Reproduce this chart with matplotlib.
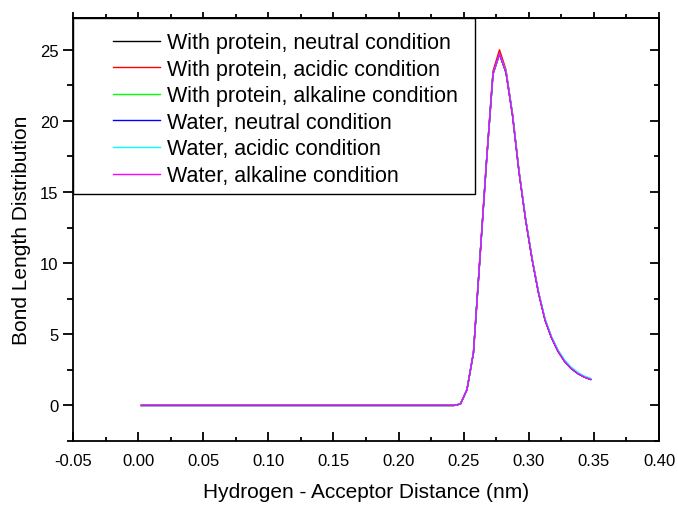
import matplotlib
matplotlib.use("Agg")
import matplotlib.pyplot as plt
from matplotlib.ticker import MultipleLocator, NullFormatter, FormatStrFormatter
from matplotlib.patches import Rectangle

plt.rcParams['font.family'] = ['Liberation Sans', 'DejaVu Sans']

# ---- data ----
distance = [0.0025, 0.2425, 0.2475, 0.2525, 0.2575, 0.2625, 0.2675, 0.2725,
            0.2775, 0.2825, 0.2875, 0.2925, 0.2975, 0.3025, 0.3075, 0.3125,
            0.3175, 0.3225, 0.3275, 0.3325, 0.3375, 0.3425, 0.3475]

prot_neutral = [0, 0, 0.1, 1.1, 3.7, 10.4, 17.1, 23.3, 24.7, 23.4, 20.4, 16.4,
                13.1, 10.3, 7.9, 6.0, 4.75, 3.8, 3.1, 2.6, 2.25, 2.0, 1.83]
prot_acidic = [0, 0, 0.1, 1.1, 3.7, 10.4, 17.2, 23.5, 25.0, 23.6, 20.5, 16.5,
               13.1, 10.3, 7.9, 6.0, 4.75, 3.8, 3.1, 2.6, 2.25, 2.0, 1.83]
prot_alkaline = [0, 0, 0.1, 1.1, 3.7, 10.4, 17.1, 23.3, 24.7, 23.4, 20.4, 16.4,
                 13.1, 10.3, 7.9, 6.0, 4.75, 3.8, 3.1, 2.6, 2.25, 2.0, 1.83]
water_neutral = [0, 0, 0.1, 1.1, 3.7, 10.4, 17.1, 23.3, 24.7, 23.4, 20.4, 16.4,
                 13.1, 10.3, 7.9, 6.0, 4.75, 3.8, 3.1, 2.6, 2.25, 2.0, 1.83]
water_acidic = [0, 0, 0.1, 1.1, 3.7, 10.4, 17.1, 23.3, 24.7, 23.5, 20.5, 16.5,
                13.2, 10.4, 8.0, 6.1, 4.85, 3.9, 3.2, 2.7, 2.33, 2.07, 1.9]
water_alkaline = [0, 0, 0.1, 1.1, 3.7, 10.4, 17.1, 23.3, 24.7, 23.4, 20.4, 16.4,
                  13.1, 10.3, 7.9, 6.0, 4.75, 3.8, 3.1, 2.6, 2.25, 2.0, 1.83]

labels = ["With protein, neutral condition",
          "With protein, acidic condition",
          "With protein, alkaline condition",
          "Water, neutral condition",
          "Water, acidic condition",
          "Water, alkaline condition"]
series = [prot_neutral, prot_acidic, prot_alkaline,
          water_neutral, water_acidic, water_alkaline]
colors = ["#000000", "#FF0000", "#00FF00", "#0000FF", "#00FFFF", "#FF00FF"]

# ---- figure ----
fig = plt.figure(figsize=(6.78, 5.06), dpi=100)
ax = fig.add_axes([0.1077, 0.1265, 0.8643, 0.835])

handles = []
for ys, c, lab in zip(series, colors, labels):
    h, = ax.plot(distance, ys, color=c, lw=1.0, label=lab)
    handles.append(h)

ax.set_xlim(-0.05, 0.40)
ax.set_ylim(-2.5, 27.2)

ax.xaxis.set_major_locator(MultipleLocator(0.05))
ax.xaxis.set_minor_locator(MultipleLocator(0.025))
ax.xaxis.set_major_formatter(FormatStrFormatter('%.2f'))
ax.yaxis.set_major_locator(MultipleLocator(5))
ax.yaxis.set_minor_locator(MultipleLocator(2.5))

for s in ax.spines.values():
    s.set_linewidth(1.3)

ax.tick_params(axis='x', which='both', direction='in', top=False,
               labelsize=12, pad=9, width=1.3)
ax.tick_params(axis='x', which='major', length=6.7)
ax.tick_params(axis='x', which='minor', length=3.2)
ax.tick_params(axis='y', which='both', direction='out', right=False,
               labelsize=12, pad=3, width=1.3)
ax.tick_params(axis='y', which='major', length=7.5)
ax.tick_params(axis='y', which='minor', length=4)

secx = ax.secondary_xaxis('top')
secx.xaxis.set_major_locator(MultipleLocator(0.05))
secx.xaxis.set_minor_locator(MultipleLocator(0.025))
secx.xaxis.set_major_formatter(NullFormatter())
secx.tick_params(which='both', direction='out', width=1.3)
secx.tick_params(which='major', length=4)
secx.tick_params(which='minor', length=3)
secx.spines['top'].set_linewidth(1.3)

secy = ax.secondary_yaxis('right')
secy.yaxis.set_major_locator(MultipleLocator(5))
secy.yaxis.set_minor_locator(MultipleLocator(2.5))
secy.yaxis.set_major_formatter(NullFormatter())
secy.tick_params(which='both', direction='in', width=1.3)
secy.tick_params(which='major', length=6.7)
secy.tick_params(which='minor', length=3.4)
secy.spines['right'].set_linewidth(1.3)

ax.set_xlabel("Hydrogen - Acceptor Distance (nm)", fontsize=15, labelpad=10)
ax.set_ylabel("Bond Length Distribution", fontsize=15, labelpad=6)

# legend frame (Origin-style box at upper-left corner)
ax.add_patch(Rectangle((0, 0.584), 0.686, 0.416, transform=ax.transAxes,
                       fill=False, edgecolor='black', lw=1.0, zorder=5))
ax.legend(handles=handles, loc='center left', bbox_to_anchor=(0.0677, 0.7856),
          frameon=False, fontsize=15.5, borderpad=0, borderaxespad=0,
          handlelength=2.2, handletextpad=0.3, labelspacing=0.26)

fig.savefig("out.png", dpi=100)
